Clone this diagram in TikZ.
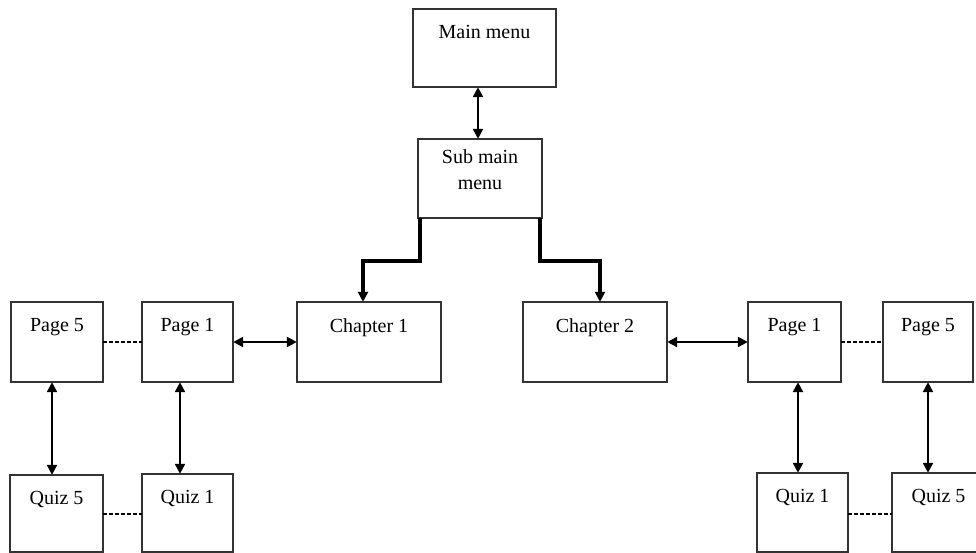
\documentclass[tikz,border=0pt]{standalone}
\usepackage{fontspec}
\setmainfont{Liberation Serif}
\usetikzlibrary{arrows.meta}
\begin{document}
\begin{tikzpicture}[x=1pt,y=-1pt,
  box/.style={draw=black!80,line width=1.1pt,fill=white},
  lbl/.style={font=\fontsize{20}{26}\selectfont,align=center,anchor=north,inner sep=0pt},
  link/.style={line width=2.3pt,{Triangle[length=10pt,width=10pt]}-{Triangle[length=10pt,width=10pt]}},
  branch/.style={line width=3.2pt,-{Triangle[length=10pt,width=10pt]}},
  dots/.style={line width=2pt,dash pattern=on 4pt off 2pt}]
\useasboundingbox (0,0) rectangle (976,553);

% boxes: (left,top) rectangle (right,bottom)
\newcommand{\mkbox}[6]{%
  \draw[box] (#2,#3) rectangle (#4,#5);
  \node[inner sep=0pt,minimum width={(#4-#2)*1pt},minimum height={(#5-#3)*1pt}] (#1) at ({(#2+#4)/2},{(#3+#5)/2}) {};
  \node[lbl] at ({(#2+#4)/2},{#3+16}) {#6};}

\mkbox{main}{413}{9}{556}{87}{Main menu}
\draw[box] (418,139) rectangle (542,218);
\node[inner sep=0pt,minimum width=124pt,minimum height=79pt] (sub) at (480,178.5) {};
\node[lbl] at (480,149) {Sub main\\menu};

\mkbox{ch1}{297}{302}{441}{382}{Chapter 1}
\mkbox{ch2}{523}{302}{667}{382}{Chapter 2}
\mkbox{lp1}{142}{302}{233}{382}{Page 1}
\mkbox{lp5}{11}{302}{103}{382}{Page 5}
\mkbox{rp1}{748}{302}{841}{382}{Page 1}
\mkbox{rp5}{883}{302}{973}{382}{Page 5}
\mkbox{lq1}{142}{474}{233}{552}{Quiz 1}
\mkbox{lq5}{10}{475}{103}{552}{Quiz 5}
\mkbox{rq1}{757}{473}{848}{552}{Quiz 1}
\mkbox{rq5}{892}{473}{985}{552}{Quiz 5}

% menu link
\draw[link] (main.south -| 478,0) -- (sub.north -| 478,0);

% branches to the chapters
\coordinate (bl) at (420,261);
\coordinate (br) at (540,261);
\draw[branch] (sub.south west -| bl) -- (bl) -| (ch1.north -| 363,0);
\draw[branch] (sub.south east -| br) -- (br) -| (ch2.north -| 600,0);

% chapter to first page
\draw[link] (ch1.west |- 0,342) -- (lp1.east |- 0,342);
\draw[link] (ch2.east |- 0,342) -- (rp1.west |- 0,342);

% page sequences
\draw[dots] (lp5.east |- 0,342) -- (lp1.west |- 0,342);
\draw[dots] (rp1.east |- 0,342) -- (rp5.west |- 0,342);

% pages to quizzes
\draw[link] (lp5.south -| 52,0) -- (lq5.north -| 52,0);
\draw[link] (lp1.south -| 180,0) -- (lq1.north -| 180,0);
\draw[link] (rp1.south -| 798,0) -- (rq1.north -| 798,0);
\draw[link] (rp5.south -| 928,0) -- (rq5.north -| 928,0);

% quiz sequences
\draw[dots] (lq5.east |- 0,514) -- (lq1.west |- 0,514);
\draw[dots] (rq1.east |- 0,514) -- (rq5.west |- 0,514);
\end{tikzpicture}
\end{document}
